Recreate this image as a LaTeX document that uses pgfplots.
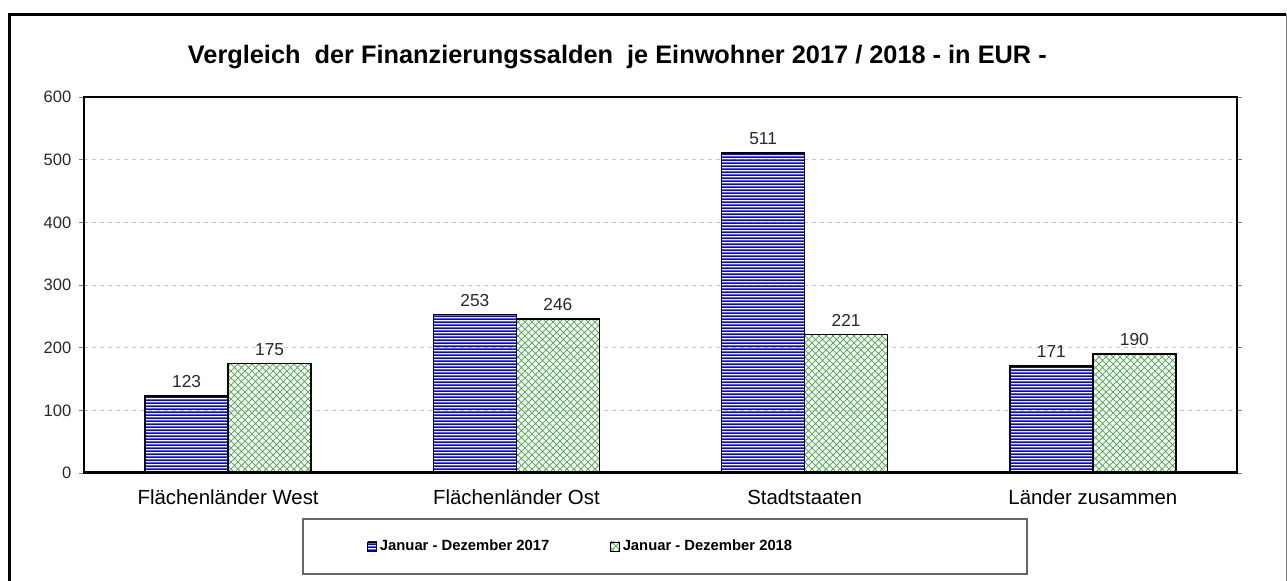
\documentclass[border=0pt]{standalone}
\usepackage{fontspec}
\setmainfont{Liberation Sans}
\usepackage{pgfplots}
\pgfplotsset{compat=1.18}
\usetikzlibrary{patterns}
\definecolor{barblue}{RGB}{0,0,255}
\definecolor{hatchgreen}{RGB}{90,175,90}
\definecolor{ticktext}{RGB}{40,40,40}
\pgfdeclarepatternformonly{bluelines}{\pgfqpoint{0pt}{0pt}}{\pgfqpoint{1pt}{2.25pt}}{\pgfqpoint{1pt}{2.25pt}}{%
  \pgfpathrectangle{\pgfqpoint{0pt}{0pt}}{\pgfqpoint{1pt}{1.6pt}}\pgfusepath{fill}}
\pgfdeclarepatternformonly{greencross}{\pgfqpoint{-0.5pt}{-0.5pt}}{\pgfqpoint{5.75pt}{5.75pt}}{\pgfqpoint{5.25pt}{5.25pt}}{%
  \pgfsetlinewidth{0.7pt}%
  \pgfpathmoveto{\pgfqpoint{0pt}{0pt}}\pgfpathlineto{\pgfqpoint{5.25pt}{5.25pt}}%
  \pgfpathmoveto{\pgfqpoint{0pt}{5.25pt}}\pgfpathlineto{\pgfqpoint{5.25pt}{0pt}}%
  \pgfusepath{stroke}}
\begin{document}
\begin{tikzpicture}
\useasboundingbox (0,0) rectangle (965.25pt,435.75pt);
% outer frame
\draw[line width=2.25pt] (7.125pt,0) -- (7.125pt,424.9pt) -- (964.5pt,424.9pt);
\draw[gray, line width=0.75pt] (964.5pt,424.9pt) -- (964.5pt,0);
% title
\node[font=\bfseries\fontsize{19pt}{21pt}\selectfont] at (463pt,393pt)
  {Vergleich \ der Finanzierungssalden \ je Einwohner 2017 / 2018 - in EUR -};
% legend frame
\draw[gray!80!black, line width=1.1pt] (227.25pt,5.25pt) rectangle (770.25pt,46.5pt);
\begin{axis}[
  at={(63pt,81pt)}, anchor=south west,
  scale only axis, width=864.75pt, height=282pt,
  xmin=-0.5, xmax=3.5, ymin=0, ymax=600,
  ytick={0,100,...,600},
  ymajorgrids, grid style={dashed, gray!45, line width=0.5pt},
  xtick={0,1,2,3},
  xticklabels={Flächenländer West, Flächenländer Ost, Stadtstaaten, Länder zusammen},
  x tick label style={font=\fontsize{15.3pt}{17pt}\selectfont, yshift=-5pt},
  y tick label style={font=\fontsize{12.4pt}{14pt}\selectfont, text=ticktext, xshift=-2pt},
  /pgf/number format/assume math mode=true,
  tick align=outside,
  x tick style={draw=none},
  y tick style={gray, line width=0.6pt},
  major tick length=4pt,
  extra x ticks={-0.5,0.5,1.5,2.5,3.5},
  extra x tick labels={},
  extra x tick style={tick align=center, major tick length=9pt,
     tick style={draw=black, line width=2.25pt}, grid=none},
  axis line style={black, line width=0.9pt},
  ybar=0pt, bar width=62.25pt,
  nodes near coords,
  every node near coord/.append style={font=\fontsize{13pt}{15pt}\selectfont, text=ticktext, yshift=2pt},
  legend style={draw=none, fill=none, at={(0.2420,-0.1955)}, anchor=west,
     font=\bfseries\fontsize{11.1pt}{13pt}\selectfont, legend columns=2,
     /tikz/every even column/.append style={column sep=43.5pt}},
  legend image code/.code={\draw[#1, line width=0.7pt] (0pt,-3.4pt) rectangle (6.8pt,3.4pt);},
  clip=false,
]
\addplot[draw=black, line width=1.1pt, pattern=bluelines, pattern color=barblue]
  coordinates {(0,123) (1,253) (2,511) (3,171)};
\addlegendentry{Januar - Dezember 2017}
\addplot[draw=black, line width=1.1pt, pattern=greencross, pattern color=hatchgreen]
  coordinates {(0,175) (1,246) (2,221) (3,190)};
\addlegendentry{Januar - Dezember 2018}
\draw[line width=2.25pt] (axis cs:-0.5,0) -- (axis cs:3.5,0);
\end{axis}
\end{tikzpicture}
\end{document}
